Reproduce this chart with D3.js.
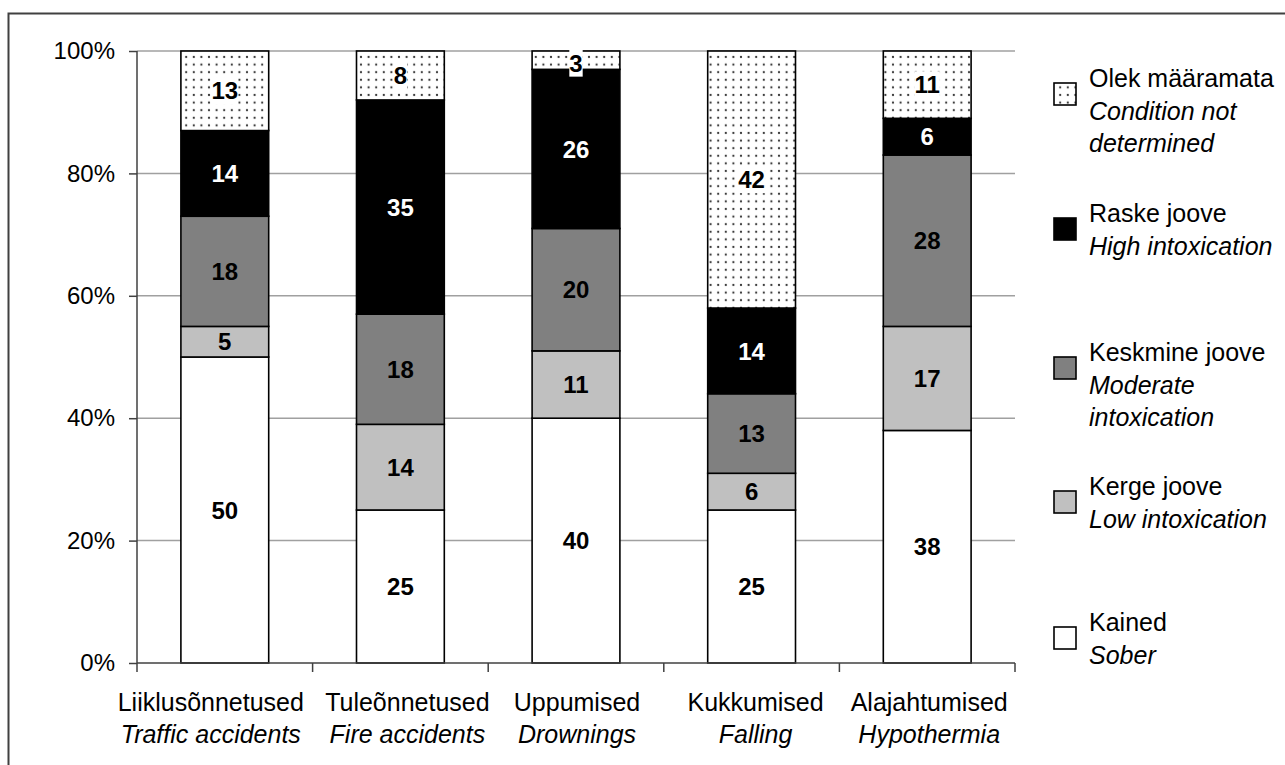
<!DOCTYPE html>
<html><head><meta charset="utf-8">
<script src="https://cdn.jsdelivr.net/npm/d3@7"></script>
<style>
body{margin:0;background:#fff;}
text{font-family:"Liberation Sans",Arial,sans-serif;fill:#000;}
</style></head>
<body><svg id="c" width="1285" height="765"></svg>
<script>
const categoriesEt = ["Liiklusõnnetused","Tuleõnnetused","Uppumised","Kukkumised","Alajahtumised"];
const categoriesEn = ["Traffic accidents","Fire accidents","Drownings","Falling","Hypothermia"];
const seriesEt = ["Kained","Kerge joove","Keskmine joove","Raske joove","Olek määramata"];
const seriesEn = ["Sober","Low intoxication","Moderate intoxication","High intoxication","Condition not determined"];
const sober      = [50,25,40,25,38];
const low        = [5,14,11,6,17];
const moderate   = [18,18,20,13,28];
const high       = [14,35,26,14,6];
const notDet     = [13,8,3,42,11];
const yTicks = [0,20,40,60,80,100];

const seriesValues = [sober, low, moderate, high, notDet];
const fills = ["#ffffff","#c0c0c0","#808080","#000000","url(#dots)"];
const labelColors = ["#000","#000","#000","#fff","#000"];

const svg = d3.select("#c");
const defs = svg.append("defs");
const pat = defs.append("pattern").attr("id","dots").attr("patternUnits","userSpaceOnUse")
  .attr("width",7.6).attr("height",7.6);
pat.append("rect").attr("width",7.6).attr("height",7.6).attr("fill","#fff");
pat.append("circle").attr("cx",3.8).attr("cy",3.8).attr("r",1.1).attr("fill","#333");

// outer border
svg.append("rect").attr("x",8.5).attr("y",13.5).attr("width",1300).attr("height",800)
  .attr("fill","none").attr("stroke","#404040").attr("stroke-width",2);

const x0 = 137, x1 = 1015, yTop = 51, yBot = 663;
const x = d3.scaleBand().domain(categoriesEt).range([x0,x1]).paddingInner(0.5).paddingOuter(0.25);
const y = d3.scaleLinear().domain([0,100]).range([yBot,yTop]);

// gridlines
svg.append("g").selectAll("line").data(yTicks.filter(d=>d>0)).join("line")
  .attr("x1",x0).attr("x2",x1).attr("y1",d=>y(d)).attr("y2",d=>y(d))
  .attr("stroke","#a0a0a0").attr("stroke-width",1.5);

// stack
const rows = categoriesEt.map((c,i)=>{const r={cat:c}; seriesEt.forEach((s,j)=>r[s]=seriesValues[j][i]); return r;});
const stack = d3.stack().keys(seriesEt)(rows);

const gBars = svg.append("g");
stack.forEach((layer,j)=>{
  gBars.append("g").selectAll("rect").data(layer).join("rect")
    .attr("x",d=>x(d.data.cat)).attr("width",x.bandwidth())
    .attr("y",d=>y(d[1])).attr("height",d=>y(d[0])-y(d[1]))
    .attr("fill",fills[j]).attr("stroke","#000").attr("stroke-width",1.6);
});

// labels
const gLab = svg.append("g");
stack.forEach((layer,j)=>{
  layer.forEach(d=>{
    let cy = (y(d[0])+y(d[1]))/2;
    if (cy - 12 < yTop) cy = yTop + 12;
    const cx = x(d.data.cat)+x.bandwidth()/2;
    const t = gLab.append("text").attr("x",cx).attr("y",cy).attr("dy","0.36em")
      .attr("text-anchor","middle").style("font-size","24px").style("font-weight","bold")
      .style("fill",labelColors[j]).text(d[1]-d[0]);
    if (j===4){
      const b = t.node().getBBox();
      gLab.insert("rect","text:last-child").attr("x",b.x).attr("y",b.y).attr("width",b.width).attr("height",b.height).attr("fill","#fff");
      t.raise();
    }
  });
});

// y axis
const yAxis = svg.append("g").attr("transform",`translate(${x0},0)`)
  .call(d3.axisLeft(y).tickValues(yTicks).tickFormat(d=>d+"%").tickSize(8).tickPadding(14));
yAxis.select(".domain").attr("stroke","#404040").attr("stroke-width",1.5).attr("d",`M-0,${yBot}V${yTop}`);
yAxis.selectAll(".tick line").attr("stroke","#404040").attr("stroke-width",1.5);
yAxis.selectAll("text").style("font-size","24px").attr("fill","#000").style("font-family","Liberation Sans, Arial, sans-serif");

// x axis line and ticks
svg.append("line").attr("x1",x0).attr("x2",x1).attr("y1",yBot).attr("y2",yBot).attr("stroke","#404040").attr("stroke-width",1.5);
const bounds = d3.range(categoriesEt.length+1).map(i=>x0 + i*x.step());
svg.append("g").selectAll("line").data(bounds).join("line")
  .attr("x1",d=>d).attr("x2",d=>d).attr("y1",yBot).attr("y2",yBot+9).attr("stroke","#404040").attr("stroke-width",1.5);

// x labels
const labelShift = [-14,7,1,4,2];
const gx = svg.append("g");
categoriesEt.forEach((c,i)=>{
  const cx = x(c)+x.bandwidth()/2 + labelShift[i];
  gx.append("text").attr("x",cx).attr("y",711).attr("text-anchor","middle").style("font-size","25px").text(c);
  gx.append("text").attr("x",cx).attr("y",743).attr("text-anchor","middle").style("font-size","25px").style("font-style","italic").text(categoriesEn[i]);
});

// legend (top to bottom: reversed series order)
const legLines = [
  [seriesEt[4],"Condition not","determined"],
  [seriesEt[3],"High intoxication"],
  [seriesEt[2],"Moderate","intoxication"],
  [seriesEt[1],"Low intoxication"],
  [seriesEt[0],"Sober"]
];
const legTop = [87,222,361,495,631];
const legFill = [fills[4],fills[3],fills[2],fills[1],fills[0]];
const gl = svg.append("g");
legLines.forEach((lines,k)=>{
  const b = legTop[k];
  const sqC = b - 9 + 16;
  gl.append("rect").attr("x",1054).attr("y",sqC-11).attr("width",22).attr("height",22)
    .attr("fill",legFill[k]).attr("stroke","#000").attr("stroke-width",1.6);
  lines.forEach((l,m)=>{
    gl.append("text").attr("x",1089).attr("y",b+m*32.5).style("font-size","25px")
      .style("font-style",m===0?"normal":"italic").text(l);
  });
});
</script></body></html>
